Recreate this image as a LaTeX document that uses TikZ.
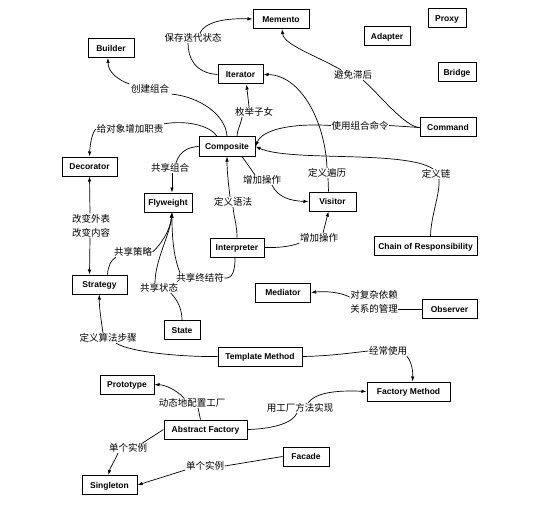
\documentclass[tikz,border=0pt]{standalone}
\usepackage{fontspec}
\setmainfont{Liberation Sans}
\newfontfamily\cjk{Noto Sans CJK SC}
\usetikzlibrary{arrows.meta}
\begin{document}
\begin{tikzpicture}[x=1pt,y=-1pt,
  box/.style={draw, line width=1pt, inner sep=0pt, minimum height=19pt,
    text height=6.1pt, text depth=0pt,
    font=\fontsize{8.5}{10}\selectfont\bfseries},
  lbl/.style={inner sep=0.5pt, font=\cjk\fontsize{9.5}{14}\selectfont, align=center},
  con/.style={line width=0.7pt},
  arr/.style={con, -{Latex[length=5pt,width=3.5pt]}}]
\useasboundingbox (0,0) rectangle (553,505);
% boxes
\node[box, minimum width=56pt] (mem) at (281,19) {Memento};
\node[box, minimum width=38pt] (proxy) at (447,18) {Proxy};
\node[box, minimum width=46pt] (adapt) at (387,36.5) {Adapter};
\node[box, minimum width=38pt] (bridge) at (457,72.5) {Bridge};
\node[box, minimum width=56pt] (cmd) at (448,127.5) {Command};
\node[box, minimum width=46pt] (build) at (111,48) {Builder};
\node[box, minimum width=45pt] (iter) at (240.5,74.5) {Iterator};
\node[box, minimum width=56pt] (comp) at (227,146.5) {Composite};
\node[box, minimum width=55pt] (dec) at (89.5,166.5) {Decorator};
\node[box, minimum width=48pt] (fly) at (168,202.5) {Flyweight};
\node[box, minimum width=54pt] (interp) at (237,247.5) {Interpreter};
\node[box, minimum width=55pt] (strat) at (99.5,284.5) {Strategy};
\node[box, minimum width=36pt] (state) at (182,330) {State};
\node[box, minimum width=55pt] (med) at (283,292.5) {Mediator};
\node[box, minimum width=47pt] (vis) at (332.5,201.5) {Visitor};
\node[box, minimum width=103pt] (cor) at (425.5,246) {Chain of Responsibility};
\node[box, minimum width=55pt] (obs) at (449.5,309) {Observer};
\node[box, minimum width=84pt] (tm) at (260,356.5) {Template Method};
\node[box, minimum width=54pt] (proto) at (127,384.5) {Prototype};
\node[box, minimum width=83pt] (af) at (205.5,429.5) {Abstract Factory};
\node[box, minimum width=83pt] (fm) at (408.5,391.5) {Factory Method};
\node[box, minimum width=46pt] (fac) at (306,456.5) {Facade};
\node[box, minimum width=55pt] (sing) at (109.5,485) {Singleton};
% labels
\node[lbl] (lsave) at (193,38) {保存迭代状态};
\node[lbl] (lbuild) at (150,89) {创建组合};
\node[lbl] (lenum) at (254,112) {枚举子女};
\node[lbl] (lresp) at (130,129) {给对象增加职责};
\node[lbl] (lavoid) at (353,75) {避免滞后};
\node[lbl] (lcmd) at (360,125.5) {使用组合命令};
\node[lbl] (lshcomp) at (170,168) {共享组合};
\node[lbl] (lchange) at (91,225.5) {改变外表\\改变内容};
\node[lbl] (lgram) at (233,202) {定义语法};
\node[lbl] (ladd1) at (262,180) {增加操作};
\node[lbl] (ltrav) at (327,173) {定义遍历};
\node[lbl] (lchain) at (436,174) {定义链};
\node[lbl] (ladd2) at (319,238) {增加操作};
\node[lbl] (lshstrat) at (133,252) {共享策略};
\node[lbl] (lshterm) at (200,278) {共享终结符};
\node[lbl] (lshstate) at (159,288) {共享状态};
\node[lbl] (lmanage) at (374,302) {对复杂依赖\\关系的管理};
\node[lbl] (lalgo) at (108,338) {定义算法步骤};
\node[lbl] (loften) at (388,351) {经常使用};
\node[lbl] (ldyn) at (192,403) {动态地配置工厂};
\node[lbl] (lfm) at (300,408) {用工厂方法实现};
\node[lbl] (lsing1) at (128,448) {单个实例};
\node[lbl] (lsing2) at (205,466) {单个实例};
% connectors
% Iterator -> Memento
\draw[con] (iter.west) .. controls (195,73) and (188,58) .. ([xshift=-5pt]lsave.south);
\draw[arr] ([xshift=7pt]lsave.north) .. controls (205,22) and (225,18) .. (mem.west);
% Composite -> Builder
\draw[con] (comp.north) .. controls (226,115) and (200,97) .. ([xshift=2pt]lbuild.south east);
\draw[arr] ([xshift=-1pt]lbuild.north west) .. controls (118,80) and (108,72) .. ([xshift=-3pt]build.south);
% Composite -> Iterator
\draw[con] ([xshift=10pt]comp.north) .. controls (237,130) and (240,127) .. ([xshift=-12pt]lenum.south);
\draw[arr] ([xshift=-5pt]lenum.north) -- ([xshift=6pt]iter.south);
% Composite -> Decorator
\draw[con] ([xshift=-10pt]comp.north) .. controls (210,125) and (185,120) .. (lresp.north east);
\draw[arr] (lresp.west) .. controls (92,132) and (90,145) .. (dec.north);
% Command -> Memento
\draw[con] (cmd.west) .. controls (405,127) and (380,95) .. ([xshift=10pt]lavoid.south);
\draw[arr] ([xshift=-12pt]lavoid.north) .. controls (315,55) and (284,45) .. ([xshift=1pt]mem.south);
% Command -> Composite
\draw[con] (cmd.west) -- (lcmd.east);
\draw[arr] (lcmd.west) .. controls (290,123) and (262,130) .. (comp.east);
% Chain -> Composite
\draw[con] ([xshift=5pt]cor.north) .. controls (431,215) and (440,195) .. ([xshift=3pt]lchain.south);
\draw[arr] ([xshift=-3pt]lchain.north) .. controls (405,150) and (290,162) .. (comp.east);
% Visitor -> Iterator
\draw[con] ([xshift=-4pt]vis.north) -- ([xshift=1pt]ltrav.south);
\draw[arr] (ltrav.north) .. controls (325,120) and (300,75) .. (iter.east);
% Composite -> Visitor
\draw[con] ([xshift=15pt]comp.south) -- ([xshift=-7pt]ladd1.north);
\draw[arr] ([xshift=10pt]ladd1.south) .. controls (278,198) and (292,201) .. (vis.west);
% Interpreter -> Composite
\draw[con] (interp.north) .. controls (237,225) and (234,218) .. (lgram.south);
\draw[arr] ([xshift=-3pt]lgram.north) .. controls (228,180) and (227,170) .. (comp.south);
% Interpreter -> Visitor
\draw[con] (interp.east) .. controls (280,248) and (292,246) .. (ladd2.south west);
\draw[arr] ([xshift=4pt]ladd2.north) .. controls (325,225) .. ([xshift=-4pt]vis.south);
% Composite -> Flyweight
\draw[con] (comp.west) .. controls (190,147) and (180,150) .. ([xshift=6pt]lshcomp.north);
\draw[arr] ([xshift=2pt]lshcomp.south) -- ([xshift=4pt]fly.north);
% Decorator <-> Strategy
\draw[arr] ([xshift=-1pt]lchange.north) -- (dec.south);
\draw[arr] ([xshift=-1pt]lchange.south) -- ([xshift=-10pt]strat.north);
% Strategy -> Flyweight
\draw[con] ([xshift=8pt]strat.north) .. controls (108,266) and (111,260) .. ([xshift=-17pt]lshstrat.south);
\draw[arr] (lshstrat.east) .. controls (160,245) and (170,232) .. ([xshift=4pt]fly.south);
% State -> Flyweight
\draw[con] (state.north) .. controls (182,310) and (178,300) .. ([xshift=-8pt]lshstate.south east);
\draw[arr] ([xshift=-4pt]lshstate.north) .. controls (155,260) and (170,235) .. ([xshift=4pt]fly.south);
% Interpreter -> Flyweight
\draw[con] ([xshift=-2pt]interp.south) .. controls (235,270) and (233,279) .. (lshterm.east);
\draw[arr] ([xshift=-20pt]lshterm.north) .. controls (173,255) and (172,235) .. ([xshift=4pt]fly.south);
% Template Method -> Strategy
\draw[con] (tm.west) .. controls (180,357) and (130,352) .. ([xshift=8pt]lalgo.south);
\draw[arr] ([xshift=-5pt]lalgo.north) .. controls (101,320) and (99,305) .. (strat.south);
% Template Method -> Factory Method
\draw[con] (tm.east) .. controls (330,356) and (350,353) .. (loften.west);
\draw[arr] ([xshift=-1pt]loften.south east) .. controls (412,362) and (413,372) .. ([xshift=4pt]fm.north);
% Abstract Factory -> Prototype
\draw[con] ([xshift=-5pt]af.north) -- ([xshift=6pt]ldyn.south);
\draw[arr] ([xshift=-8pt]ldyn.north) .. controls (175,389) and (165,385) .. (proto.east);
% Abstract Factory -> Factory Method
\draw[con] (af.east) .. controls (270,429) and (292,424) .. ([xshift=-3pt]lfm.south);
\draw[arr] ([xshift=8pt]lfm.north) .. controls (315,393) and (335,390) .. (fm.west);
% Abstract Factory -> Singleton
\draw[con] (af.west) -- ([xshift=-5pt]lsing1.north east);
\draw[arr] ([xshift=-10pt]lsing1.south) .. controls (114,462) and (110,468) .. ([xshift=-1pt]sing.north);
% Facade -> Singleton
\draw[con] (fac.west) -- (lsing2.east);
\draw[arr] ([yshift=-4pt]lsing2.west) -- (sing.east);
% Observer -> Mediator
\draw[con] (obs.west) -- ([yshift=-7pt]lmanage.east);
\draw[arr] ([yshift=5pt]lmanage.west) .. controls (340,292) and (325,291) .. (med.east);
\end{tikzpicture}
\end{document}
